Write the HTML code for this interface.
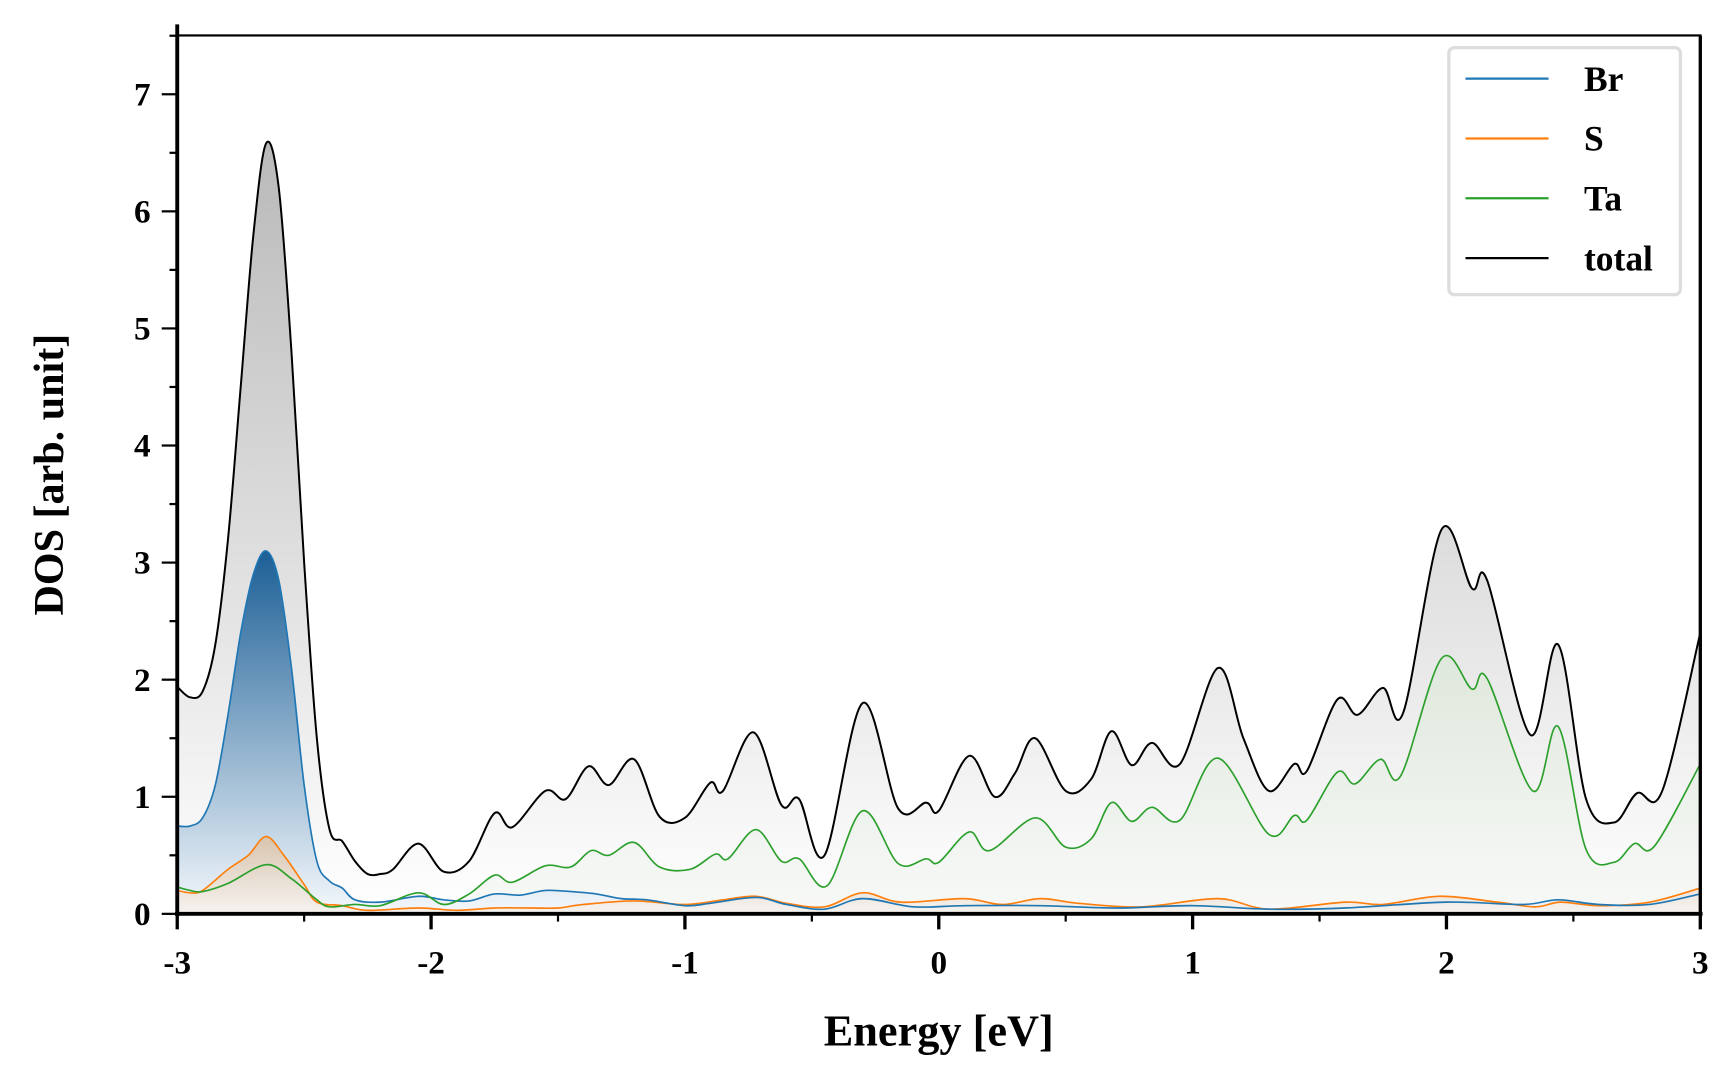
<!DOCTYPE html>
<html><head><meta charset="utf-8"><style>
html,body{margin:0;padding:0;background:#fff;}
svg{display:block;font-family:"Liberation Serif",serif;font-weight:bold;}
</style></head><body>
<svg id="chart" width="1728" height="1080" viewBox="0 0 1560 975" xmlns="http://www.w3.org/2000/svg">
<defs>
<linearGradient id="gTot" x1="0" y1="0" x2="0" y2="1"><stop offset="0" stop-color="#b9b9b9"/><stop offset="1" stop-color="#ffffff"/></linearGradient>
<linearGradient id="gBr" x1="0" y1="0" x2="0" y2="1"><stop offset="0" stop-color="#1c5f96"/><stop offset="1" stop-color="#f4f8fc"/></linearGradient>
<linearGradient id="gS" x1="0" y1="0" x2="0" y2="1"><stop offset="0" stop-color="#d8c4ae"/><stop offset="1" stop-color="#f6f3f0"/></linearGradient>
<linearGradient id="gTa" x1="0" y1="0" x2="0" y2="1"><stop offset="0" stop-color="#dfe8dc"/><stop offset="1" stop-color="#f8f9f8"/></linearGradient>
</defs>
<g id="fills"></g><g id="lines"></g><g id="axes"></g>
</svg>
<script>
const totalE=[-3,-2.95,-2.9,-2.85,-2.8,-2.75,-2.7,-2.65,-2.6,-2.55,-2.5,-2.45,-2.4,-2.35,-2.3,-2.25,-2.2,-2.15,-2.05,-1.95,-1.85,-1.75,-1.68,-1.55,-1.47,-1.38,-1.3,-1.2,-1.1,-1.0,-0.9,-0.85,-0.73,-0.62,-0.55,-0.45,-0.3,-0.16,-0.05,0,0.12,0.22,0.3,0.38,0.5,0.6,0.68,0.76,0.84,0.95,1.1,1.2,1.3,1.4,1.45,1.57,1.65,1.75,1.83,1.98,2.1,2.16,2.33,2.44,2.55,2.66,2.75,2.85,3.0];
const totalV=[1.94,1.85,1.9,2.3,3.2,4.5,5.8,6.58,6.2,4.8,3.0,1.5,0.72,0.62,0.45,0.34,0.34,0.38,0.6,0.36,0.45,0.86,0.74,1.05,0.98,1.26,1.1,1.32,0.83,0.82,1.12,1.05,1.55,0.93,0.98,0.5,1.8,0.9,0.95,0.88,1.35,1.0,1.2,1.5,1.05,1.15,1.56,1.27,1.46,1.28,2.1,1.5,1.05,1.28,1.22,1.83,1.7,1.93,1.72,3.28,2.78,2.85,1.53,2.3,0.98,0.78,1.03,1.05,2.4];
const taE=[-3,-2.95,-2.9,-2.8,-2.65,-2.55,-2.45,-2.4,-2.3,-2.2,-2.05,-1.95,-1.85,-1.75,-1.68,-1.55,-1.45,-1.37,-1.3,-1.2,-1.1,-0.98,-0.88,-0.83,-0.72,-0.62,-0.55,-0.44,-0.3,-0.16,-0.05,0,0.12,0.2,0.38,0.5,0.6,0.68,0.76,0.84,0.95,1.1,1.3,1.4,1.45,1.57,1.64,1.74,1.82,1.98,2.1,2.16,2.34,2.44,2.55,2.66,2.74,2.82,3.0];
const taV=[0.23,0.2,0.19,0.26,0.42,0.3,0.12,0.06,0.08,0.07,0.18,0.08,0.17,0.33,0.27,0.41,0.4,0.54,0.5,0.61,0.4,0.38,0.51,0.47,0.72,0.45,0.47,0.24,0.88,0.43,0.47,0.44,0.7,0.54,0.82,0.57,0.64,0.95,0.79,0.91,0.8,1.33,0.68,0.84,0.8,1.21,1.11,1.32,1.18,2.18,1.92,2.01,1.05,1.6,0.55,0.44,0.6,0.58,1.28];
const brE=[-3,-2.95,-2.9,-2.85,-2.8,-2.75,-2.7,-2.65,-2.6,-2.55,-2.5,-2.45,-2.4,-2.35,-2.3,-2.2,-2.05,-1.95,-1.85,-1.75,-1.65,-1.55,-1.45,-1.35,-1.25,-1.15,-1.0,-0.9,-0.72,-0.6,-0.45,-0.3,-0.1,0.1,0.4,0.7,1.0,1.3,1.6,2.0,2.3,2.44,2.6,2.8,3.0];
const brV=[0.75,0.75,0.82,1.1,1.7,2.4,2.9,3.1,2.85,2.1,1.1,0.45,0.28,0.22,0.12,0.1,0.15,0.12,0.11,0.17,0.16,0.2,0.19,0.17,0.13,0.12,0.07,0.09,0.14,0.08,0.04,0.13,0.06,0.07,0.07,0.05,0.07,0.04,0.05,0.1,0.08,0.12,0.08,0.08,0.17];
const sE=[-3,-2.95,-2.9,-2.8,-2.72,-2.65,-2.58,-2.5,-2.45,-2.35,-2.25,-2.05,-1.9,-1.75,-1.6,-1.5,-1.4,-1.2,-1.0,-0.85,-0.72,-0.6,-0.45,-0.3,-0.15,0.1,0.25,0.4,0.55,0.8,1.1,1.3,1.6,1.75,1.97,2.2,2.35,2.45,2.6,2.8,3.0];
const sV=[0.2,0.18,0.2,0.38,0.5,0.66,0.5,0.25,0.1,0.07,0.03,0.05,0.03,0.05,0.05,0.05,0.08,0.11,0.08,0.12,0.15,0.09,0.06,0.18,0.1,0.13,0.08,0.13,0.09,0.06,0.13,0.04,0.1,0.08,0.15,0.1,0.06,0.1,0.07,0.1,0.22];
const xTicks=[-3,-2,-1,0,1,2,3];
const yTicks=[0,1,2,3,4,5,6,7];

const X0=160,X1=1535,Y0=825,YT=32;
const xs=e=>X0+(e+3)/6*(X1-X0);
const ys=v=>Y0-v*105.7;
const NS="http://www.w3.org/2000/svg";
function mk(tag,attrs,parent){const el=document.createElementNS(NS,tag);for(const k in attrs)el.setAttribute(k,attrs[k]);parent.appendChild(el);return el;}
function pathD(E,V){
  const p=E.map((e,i)=>[xs(e),ys(V[i])]);
  let d=`M${p[0][0]},${p[0][1]}`;
  for(let i=0;i<p.length-1;i++){
    const a=p[Math.max(i-1,0)],b=p[i],c=p[i+1],n=p[Math.min(i+2,p.length-1)];
    let c1x=b[0]+(c[0]-a[0])/6,c1y=b[1]+(c[1]-a[1])/6,c2x=c[0]-(n[0]-b[0])/6,c2y=c[1]-(n[1]-b[1])/6;
    c1x=Math.min(Math.max(c1x,b[0]),c[0]);c2x=Math.min(Math.max(c2x,b[0]),c[0]);
    d+=` C${c1x},${c1y} ${c2x},${c2y} ${c[0]},${c[1]}`;
  }
  return d;
}
const fills=document.getElementById('fills'),lines=document.getElementById('lines'),axes=document.getElementById('axes');
const series=[
 {name:'total',E:totalE,V:totalV,c:'#000',g:'gTot'},
 {name:'ta',E:taE,V:taV,c:'#2ca02c',g:'gTa'},
 {name:'br',E:brE,V:brV,c:'#1f77b4',g:'gBr'},
 {name:'s',E:sE,V:sV,c:'#ff7f0e',g:'gS'}];
series.forEach(s=>{
  const d=pathD(s.E,s.V);
  const f=mk('path',{d:d+` L${xs(3)},${Y0} L${xs(-3)},${Y0} Z`,fill:`url(#${s.g})`,stroke:'none'},fills);
  
  
});
series.slice().reverse().forEach(s=>{
  const l=mk('path',{d:pathD(s.E,s.V),fill:'none',stroke:s.c,'stroke-width':s.name==='total'?1.8:1.5},lines);
  
  
});
const fr=mk('rect',{x:X0,y:YT,width:X1-X0,height:Y0-YT,fill:'none',stroke:'#000','stroke-width':2},axes);

mk('line',{x1:X0,y1:YT-10,x2:X0,y2:Y0+2,stroke:'#000','stroke-width':3.5},axes);
mk('line',{x1:X0-2,y1:Y0,x2:X1+2,y2:Y0,stroke:'#000','stroke-width':3.5},axes);
mk('line',{x1:X1,y1:YT,x2:X1,y2:Y0,stroke:'#000','stroke-width':3},axes);
for(let v=0;v<=7.5;v+=0.5){const maj=Number.isInteger(v);mk('line',{x1:X0,x2:X0-(maj?14:7),y1:ys(v),y2:ys(v),stroke:'#000','stroke-width':2},axes);}
for(let e=-3;e<=3;e+=0.5){const maj=Number.isInteger(e);mk('line',{y1:Y0,y2:Y0+(maj?14:7),x1:xs(e),x2:xs(e),stroke:'#000','stroke-width':maj?3:2},axes);}
yTicks.forEach(v=>{const t=mk('text',{x:X0-24,y:ys(v)+10,'text-anchor':'end','font-size':30},axes);t.textContent=v;
 });
xTicks.forEach(e=>{const t=mk('text',{x:xs(e),y:Y0+54,'text-anchor':'middle','font-size':30},axes);t.textContent=e;
 });
const xl=mk('text',{x:(X0+X1)/2,y:944,'text-anchor':'middle','font-size':40},axes);xl.textContent='Energy [eV]';

const yl=mk('text',{x:0,y:0,'text-anchor':'middle','font-size':38,transform:`translate(57,${(YT+Y0)/2}) rotate(-90)`},axes);yl.textContent='DOS [arb. unit]';

const lg=mk('g',{},axes);

mk('rect',{x:1308,y:43,width:209,height:223,rx:5,fill:'#fff',stroke:'#ddd','stroke-width':3},lg);
const leg=[['Br','#1f77b4'],['S','#ff7f0e'],['Ta','#2ca02c'],['total','#000']];
leg.forEach((l,i)=>{const y=71+i*54;
 const ln=mk('line',{x1:1323,x2:1398,y1:y,y2:y,stroke:l[1],'stroke-width':2},lg);
 
 const t=mk('text',{x:1430,y:y+11,'font-size':32},lg);t.textContent=l[0];
 });
</script>
</body></html>
